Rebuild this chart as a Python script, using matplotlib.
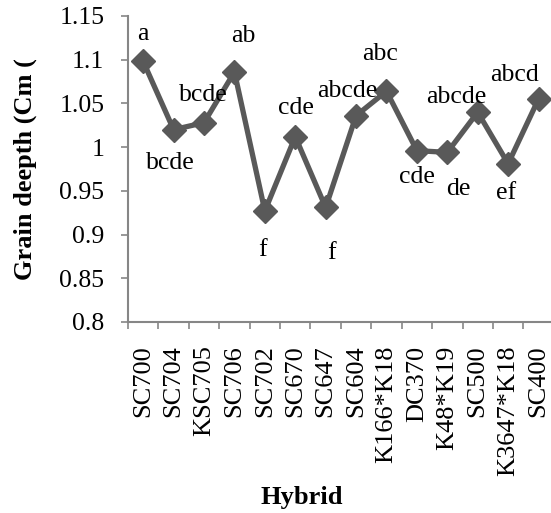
import matplotlib
matplotlib.use('Agg')
import matplotlib.pyplot as plt
import numpy as np

# hybrids and grain depth (cm)
hybrids = ['SC700', 'SC704', 'KSC705', 'SC706', 'SC702', 'SC670', 'SC647',
           'SC604', 'K166*K18', 'DC370', 'K48*K19', 'SC500', 'K3647*K18', 'SC400']
depth = [1.098, 1.020, 1.028, 1.086, 0.927, 1.012, 0.931,
         1.036, 1.064, 0.996, 0.994, 1.040, 0.981, 1.055]
letters = ['a', 'bcde', 'bcde', 'ab', 'f', 'cde', 'f',
           'abcde', 'abc', 'cde', 'de', 'abcde', 'ef', 'abcd']

# label offsets in pixels (dx, dy)
offsets = [(0, 27), (-3, -33), (-1, 28), (9, 36), (-2, -39), (1, 29), (6, -46),
           (-9, 25), (-6, 37), (0, -26), (11, -37), (-21, 15), (-2, -29), (-24, 24)]

plt.rcParams['font.family'] = 'Liberation Serif'

fig = plt.figure(figsize=(5.51, 5.13), dpi=100)
ax = fig.add_axes([128 / 551, 191 / 513, 423 / 551, 306 / 513])

x = np.arange(len(hybrids))
ax.plot(x, depth, color='#595959', lw=3.8, marker='D', markersize=12.5,
        markerfacecolor='#595959', markeredgecolor='#595959')

for i, (v, lab) in enumerate(zip(depth, letters)):
    ax.annotate(lab, (i, v), xytext=offsets[i], textcoords='offset pixels',
                ha='center', va='center', fontsize=18.5)

ax.set_xlim(-0.5, 13.41)
ax.set_ylim(0.8, 1.15)
ax.set_yticks(np.arange(0.8, 1.151, 0.05))
ax.set_yticklabels(['0.8', '0.85', '0.9', '0.95', '1', '1.05', '1.1', '1.15'])

# tick marks between categories, labels at the centres
ax.set_xticks(np.arange(-0.5, 13.5, 1.0))
ax.set_xticklabels([])
ax.set_xticks(x, minor=True)
ax.set_xticklabels(hybrids, minor=True, rotation=90, fontsize=19)
ax.tick_params(axis='x', which='minor', length=0, pad=17)
ax.tick_params(axis='x', which='major', length=5, color='#868686', width=1.2)
ax.tick_params(axis='y', length=5, color='#868686', width=1.2, pad=12, labelsize=18.5)

for s in ['top', 'right']:
    ax.spines[s].set_visible(False)
for s in ['left', 'bottom']:
    ax.spines[s].set_color('#868686')
    ax.spines[s].set_linewidth(1.5)

ax.set_ylabel('Grain deepth (Cm (', fontsize=19, fontweight='bold', va='center')
ax.yaxis.set_label_coords(-0.2435, 0.5)
ax.set_xlabel('Hybrid', fontsize=19, fontweight='bold', va='center')
ax.xaxis.set_label_coords(0.411, -0.572)

fig.savefig('out.png', dpi=100)
